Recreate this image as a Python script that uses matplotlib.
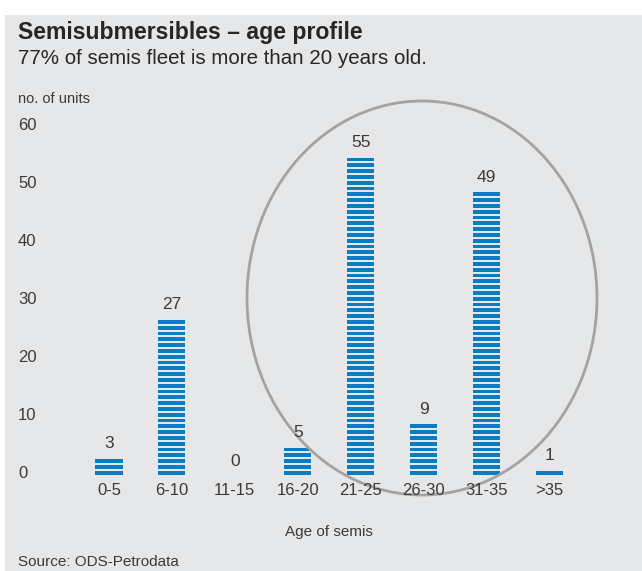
import matplotlib.pyplot as plt
from matplotlib.patches import Ellipse, Rectangle
from matplotlib.transforms import blended_transform_factory

# chart data
age_groups = ["0-5", "6-10", "11-15", "16-20", "21-25", "26-30", "31-35", ">35"]
units = [3, 27, 0, 5, 55, 9, 49, 1]
y_ticks = [0, 10, 20, 30, 40, 50, 60]

BG = "#e6e7e8"
BLUE = "#0a7cc2"
TXT = "#262626"
GREY_TXT = "#3a3a3a"

plt.rcParams["font.family"] = ["Liberation Sans", "DejaVu Sans"]

W, H = 642, 571
fig = plt.figure(figsize=(W / 100, H / 100), dpi=100)
fig.patch.set_facecolor("white")
# grey panel
fig.patches.append(Rectangle((5 / W, 0), 1, 1 - 15 / H, transform=fig.transFigure,
                             facecolor=BG, edgecolor="none", zorder=-10))

# axes placed so that x index 0 sits at px 109, step 62.9 px; y=0 at px 474, y=60 at px 126
ax_l, ax_r = 60, 600
ax = fig.add_axes([ax_l / W, (H - 474) / H, (ax_r - ax_l) / W, (474 - 126) / H])
ax.set_facecolor("none")
step = 62.9
ax.set_xlim((ax_l - 109) / step, (ax_r - 109) / step)
ax.set_ylim(0, 60)
for s in ax.spines.values():
    s.set_visible(False)
ax.set_xticks([])
ax.set_yticks([])

# striped bars: one stripe per unit
for i, v in enumerate(units):
    for k in range(v):
        ax.bar(i, 0.66, bottom=k - 0.1, width=0.43, color=BLUE, linewidth=0, clip_on=False)
    ax.text(i, v + 0.9, str(v), ha="center", va="bottom", fontsize=12.5, color=GREY_TXT)
    ax.text(i, -1.5, age_groups[i], ha="center", va="top", fontsize=12, color=GREY_TXT)

# y tick labels, left aligned near the panel edge
tr = blended_transform_factory(fig.transFigure, ax.transData)
for t in y_ticks:
    ax.text(18 / W, t, str(t), transform=tr, ha="left", va="center", fontsize=12, color=GREY_TXT)

# highlight ellipse around the older units
ell = Ellipse(((422 - 109) / step, (474 - 298) / 5.8), 350 / step, 394 / 5.8,
              fill=False, edgecolor="#a3a3a3", linewidth=2, clip_on=False)
ax.add_patch(ell)

fig.text(18 / W, 1 - 33 / H, "Semisubmersibles \u2013 age profile", fontsize=16.6,
         fontweight="bold", color=TXT, va="center", ha="left")
fig.text(18 / W, 1 - 58 / H, "77% of semis fleet is more than 20 years old.", fontsize=14.8,
         color=TXT, va="center", ha="left")
fig.text(18 / W, 1 - 99 / H, "no. of units", fontsize=10.5, color=GREY_TXT, va="center", ha="left")
fig.text(329 / W, 1 - 532 / H, "Age of semis", fontsize=11, color=GREY_TXT, va="center", ha="center")
fig.text(18 / W, 1 - 562 / H, "Source: ODS-Petrodata", fontsize=11, color=GREY_TXT,
         va="center", ha="left")

fig.savefig("out.png", dpi=100, facecolor=fig.get_facecolor())
